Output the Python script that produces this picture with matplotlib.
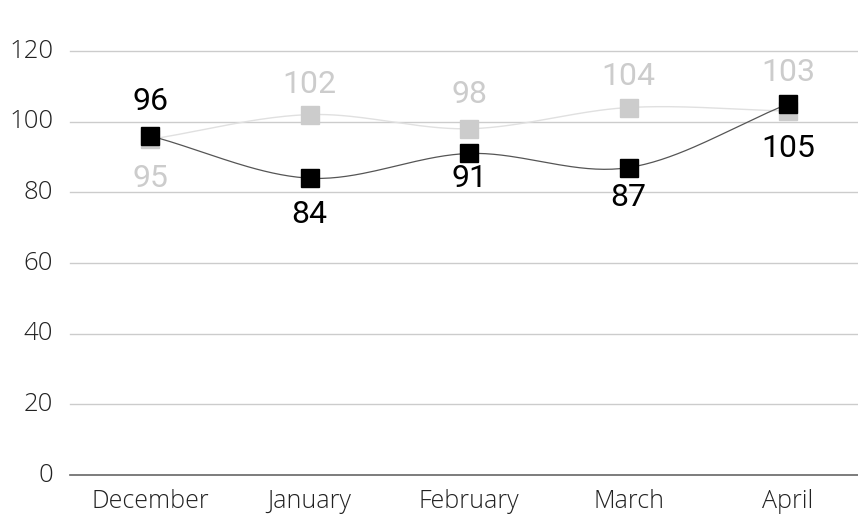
import numpy as np
import matplotlib
matplotlib.use("Agg")
import matplotlib.pyplot as plt
from matplotlib import font_manager
from matplotlib.transforms import blended_transform_factory

months = ["December", "January", "February", "March", "April"]
series_gray = [95, 102, 98, 104, 103]
series_black = [96, 84, 91, 87, 105]
y_ticks = [0, 20, 40, 60, 80, 100, 120]

# vertical distance (pixels) of each value label from its marker; + above, - below
gray_label_dy = [-36.5, 33.5, 37, 33.6, 41.7]
black_label_dy = [37, -33.7, -22, -26.7, -41.2]

W, H, DPI = 858, 517, 100


def pick(*names):
    avail = {f.name for f in font_manager.fontManager.ttflist}
    for n in names:
        if n in avail:
            return n
    return "DejaVu Sans"


axis_font = pick("Open Sans", "Noto Sans", "DejaVu Sans")
label_font = pick("Roboto", "Open Sans", "DejaVu Sans")


def smooth(y, n=40):
    """Cubic Hermite curve through the points with centred-difference tangents."""
    y = np.asarray(y, dtype=float)
    x = np.arange(len(y), dtype=float)
    m = np.gradient(y, x)
    xs, ys = [], []
    for i in range(len(y) - 1):
        t = np.linspace(0, 1, n)
        h00 = 2 * t**3 - 3 * t**2 + 1
        h10 = t**3 - 2 * t**2 + t
        h01 = -2 * t**3 + 3 * t**2
        h11 = t**3 - t**2
        xs.append(x[i] + t)
        ys.append(h00 * y[i] + h10 * m[i] + h01 * y[i + 1] + h11 * m[i + 1])
    return np.concatenate(xs), np.concatenate(ys)


fig = plt.figure(figsize=(W / DPI, H / DPI), dpi=DPI)
left_px, right_px = 70.25, 867.75
bottom_px, top_px = 517 - 475, 517 - 51
ax = fig.add_axes([left_px / W, bottom_px / H,
                   (right_px - left_px) / W, (top_px - bottom_px) / H])
ax.set_xlim(-0.5, 4.5)
ax.set_ylim(0, 120)
ax.patch.set_visible(False)
for s in ax.spines.values():
    s.set_visible(False)

for v in y_ticks[1:]:
    ax.axhline(v, color="#cccccc", lw=1, zorder=0, clip_on=False)
ax.axhline(0, color="#666666", lw=1.2, zorder=1, clip_on=False)

x = np.arange(len(months))

xs, ys = smooth(series_gray)
ax.plot(xs, ys, color="#e0e0e0", lw=1, zorder=2, clip_on=False)
ax.plot(x, series_gray, ls="none", marker="s", ms=13, color="#cccccc",
        zorder=3, clip_on=False)

xs, ys = smooth(series_black)
ax.plot(xs, ys, color="#555555", lw=0.9, zorder=4, clip_on=False)
ax.plot(x, series_black, ls="none", marker="s", ms=13, color="#000000",
        zorder=5, clip_on=False)

for xi, v, dy in zip(x, series_gray, gray_label_dy):
    ax.annotate(str(v), (xi, v), xytext=(0, dy), textcoords="offset pixels",
                ha="center", va="center_baseline", fontsize=23, color="#cccccc",
                family=label_font, zorder=6)
for xi, v, dy in zip(x, series_black, black_label_dy):
    ax.annotate(str(v), (xi, v), xytext=(0, dy), textcoords="offset pixels",
                ha="center", va="center_baseline", fontsize=23, color="#000000",
                family=label_font, zorder=7)

ax.set_xticks(x)
ax.set_xticklabels(months)
ax.set_yticks(y_ticks)
ax.set_yticklabels([])
ax.tick_params(length=0, labelsize=18, colors="#222222")
ax.tick_params(axis="x", pad=10)
for lab in ax.get_xticklabels():
    lab.set_family(axis_font)
    lab.set_fontweight("light")

# y tick labels right-aligned at a fixed position left of the grid
trans = blended_transform_factory(fig.transFigure, ax.transData)
for v in y_ticks:
    fig.text(53 / W, v, str(v), transform=trans, ha="right", va="center",
             fontsize=18.5, color="#222222", family=axis_font, fontweight="light")

fig.savefig("out.png", dpi=DPI)
